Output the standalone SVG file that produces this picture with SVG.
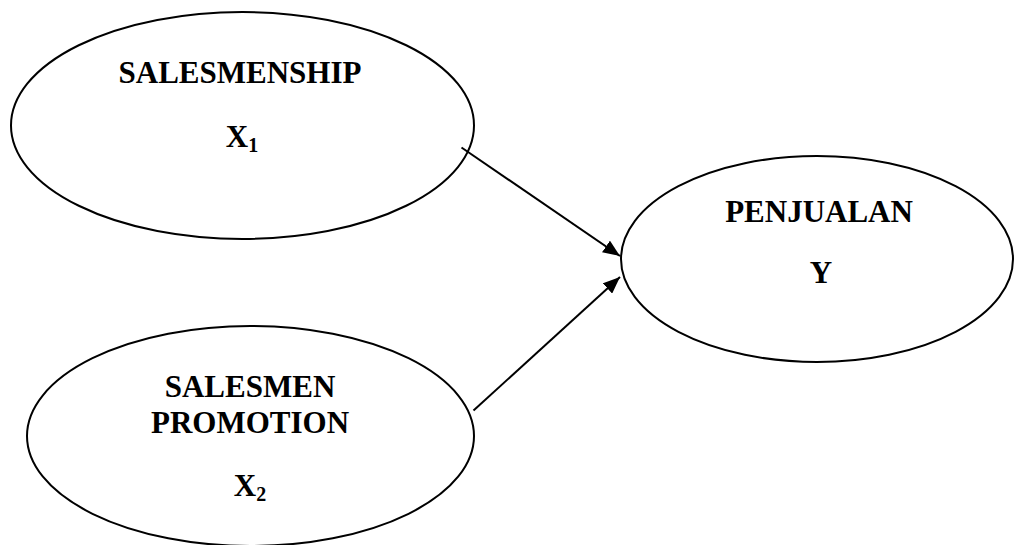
<svg xmlns="http://www.w3.org/2000/svg" width="1014" height="545" viewBox="0 0 1014 545">
<style>
.node{fill:#fff;stroke:#000;stroke-width:2}
.t{font-family:"Liberation Serif","Times New Roman",serif;font-weight:bold;font-size:31px;fill:#000;text-anchor:middle}
.sub{font-size:20px}
.conn{stroke:#000;stroke-width:2;fill:none}
</style>
<defs>
<marker id="ah" markerUnits="userSpaceOnUse" markerWidth="18" markerHeight="14" refX="17" refY="7" orient="auto">
<path d="M0,0 L17,7 L0,14 Z" fill="#000"/>
</marker>
</defs>
<rect width="1014" height="545" fill="#fff"/>
<g id="node-x1">
<ellipse class="node" cx="242.5" cy="125.5" rx="231.5" ry="113.5"/>
<text class="t" x="240" y="83">SALESMENSHIP</text>
<text class="t" x="242" y="147">X<tspan class="sub" dy="5">1</tspan></text>
</g>
<g id="node-x2">
<ellipse class="node" cx="250.5" cy="436" rx="223.5" ry="110"/>
<text class="t" x="250" y="397">SALESMEN</text>
<text class="t" x="250" y="433">PROMOTION</text>
<text class="t" x="250" y="496">X<tspan class="sub" dy="5">2</tspan></text>
</g>
<g id="node-y">
<ellipse class="node" cx="817" cy="259" rx="196" ry="103"/>
<text class="t" x="819" y="222">PENJUALAN</text>
<text class="t" x="821" y="283">Y</text>
</g>
<g id="connectors">
<line class="conn" x1="461.5" y1="147.5" x2="620" y2="256" marker-end="url(#ah)"/>
<line class="conn" x1="473.5" y1="410.5" x2="620" y2="277" marker-end="url(#ah)"/>
</g>
</svg>
